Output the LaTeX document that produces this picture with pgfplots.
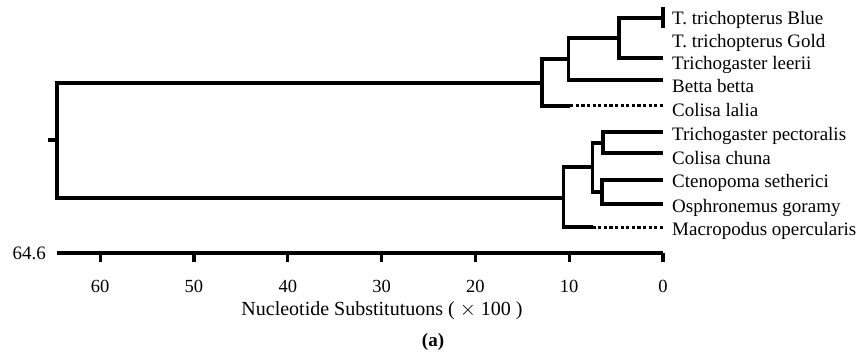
\documentclass[border=0pt]{standalone}
\usepackage{pgfplots}
\pgfplotsset{compat=1.18}
\usepackage{fontspec}
\setmainfont{Liberation Serif}
\tikzset{lab/.style={anchor=west, inner sep=0pt, xshift=9pt, text height=13pt, text depth=3pt, font=\fontsize{19}{21}\selectfont}}
\pgfplotsset{
  tree/.style={black, line width=3.4pt, no markers, line join=miter},
  dot/.style={black, line width=3pt, no markers, dash pattern=on 3.2pt off 2.4pt},
}
\begin{document}
\begin{tikzpicture}[x=1pt,y=1pt]
\useasboundingbox (0,0) rectangle (859,359);
\begin{axis}[
  at={(57pt,106pt)}, anchor=south west,
  scale only axis, width=606pt, height=253pt,
  xmin=0, xmax=64.6, x dir=reverse, ymin=0, ymax=253,
  axis x line*=bottom, axis y line=none,
  axis line style={line width=3.4pt,-},
  xtick={0,10,...,60}, tick align=outside, major tick length=9pt,
  tick style={line width=3.2pt,black},
  xticklabel style={font=\fontsize{18.5}{20}\selectfont, yshift=-15pt},
  /pgf/number format/assume math mode=true,
  clip=false,
]
% upper cluster
\addplot[tree] coordinates {(0,235) (4.7,235) (4.7,195) (0,195)};
\addplot[tree] coordinates {(0,246) (0,225)};
\addplot[tree] coordinates {(4.7,215) (10.1,215) (10.1,173) (0,173)};
\addplot[tree] coordinates {(10.1,194) (12.9,194) (12.9,147) (9.9,147)};
\addplot[dot]  coordinates {(9.9,147) (0,147)};
% root
\addplot[tree] coordinates {(12.9,170) (64.6,170) (64.6,55) (10.6,55)};
\addplot[tree] coordinates {(65.6,113) (64.6,113)};
% lower cluster
\addplot[tree] coordinates {(0,121) (6.4,121) (6.4,100) (0,100)};
\addplot[tree] coordinates {(0,73) (6.5,73) (6.5,49) (0,49)};
\addplot[tree] coordinates {(6.4,110) (7.5,110) (7.5,61) (6.5,61)};
\addplot[tree] coordinates {(7.5,86) (10.6,86) (10.6,26) (7.5,26)};
\addplot[dot]  coordinates {(7.5,26) (0,26)};
% leaf labels
\node[lab] at (axis cs:0,233) {T. trichopterus Blue};
\node[lab] at (axis cs:0,210) {T. trichopterus Gold};
\node[lab] at (axis cs:0,188) {Trichogaster leerii};
\node[lab] at (axis cs:0,165) {Betta betta};
\node[lab] at (axis cs:0,141) {Colisa lalia};
\node[lab] at (axis cs:0,117) {Trichogaster pectoralis};
\node[lab] at (axis cs:0,93) {Colisa chuna};
\node[lab] at (axis cs:0,70) {Ctenopoma setherici};
\node[lab] at (axis cs:0,46) {Osphronemus goramy};
\node[lab] at (axis cs:0,22) {Macropodus opercularis};
\node[anchor=east, inner sep=0pt, font=\fontsize{19}{21}\selectfont] at (axis cs:64.6,0) [xshift=-11pt] {64.6};
\end{axis}
\node[font=\fontsize{20}{22}\selectfont] at (382,48) {Nucleotide Substitutuons ( $\times$ 100 )};
\node[font=\fontsize{19}{21}\selectfont\bfseries] at (433,17) {(a)};
\end{tikzpicture}
\end{document}
